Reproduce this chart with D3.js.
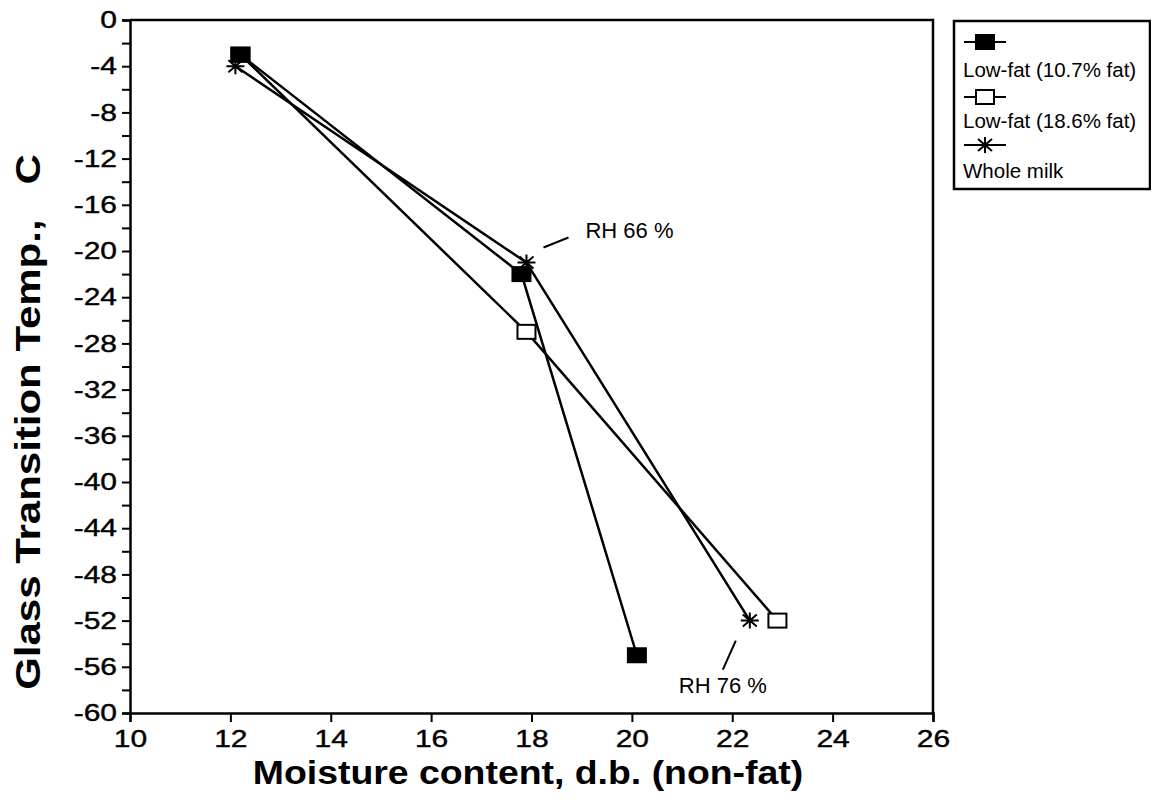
<!DOCTYPE html>
<html>
<head>
<meta charset="utf-8">
<script src="https://cdn.jsdelivr.net/npm/d3@7"></script>
<style>
  body { margin: 0; background: #fff; }
  text { font-family: "Liberation Sans", Arial, sans-serif; fill: #000; }
</style>
</head>
<body>
<script>
// series
var seriesNames = ["Low-fat (10.7% fat)", "Low-fat (18.6% fat)", "Whole milk"];
var seriesSymbols = ["filled", "open", "star"];
var lowFat107X = [12.2, 17.8, 20.1];
var lowFat107Y = [-3, -22, -55];
var lowFat186X = [12.2, 17.9, 22.9];
var lowFat186Y = [-3, -27, -52];
var wholeMilkX = [12.1, 17.9, 22.35];
var wholeMilkY = [-4, -21, -52];

var xTicks = [10, 12, 14, 16, 18, 20, 22, 24, 26];
var yTicks = d3.range(0, -61, -2);

// annotations: label + the point it refers to
var notes = [
    { text: "RH 66 %", x: 17.9, y: -21 },
    { text: "RH 76 %", x: 22.35, y: -52 }
];

var width = 1151, height = 800;
var margin = { left: 130, right: 218, top: 20, bottom: 87 };
var stretch = 1.25; // scanned lettering is wider than Arial

var svg = d3.select("body").append("svg")
    .attr("width", width)
    .attr("height", height);

var x = d3.scaleLinear().domain([10, 26]).range([margin.left, width - margin.right]);
var y = d3.scaleLinear().domain([-60, 0]).range([height - margin.bottom, margin.top]);

// frame (top + right)
svg.append("path")
    .attr("d", "M" + x(10) + "," + y(0) + "H" + x(26) + "V" + y(-60))
    .attr("fill", "none")
    .attr("stroke", "#000")
    .attr("stroke-width", 2.5);

var xAxis = svg.append("g")
    .attr("transform", "translate(0," + y(-60) + ")")
    .call(d3.axisBottom(x).tickValues(xTicks).tickSize(9).tickPadding(8).tickFormat(d => String(d)));

var yAxis = svg.append("g")
    .attr("transform", "translate(" + x(10) + ",0)")
    .call(d3.axisLeft(y).tickValues(yTicks).tickSize(8).tickPadding(5)
        .tickFormat(d => d % 4 === 0 ? String(d) : ""));

[xAxis, yAxis].forEach(function (g) {
    g.select(".domain").attr("stroke-width", 2.5);
    g.selectAll(".tick line").attr("stroke-width", 2);
    g.selectAll("text")
        .style("font-size", "24px")
        .attr("fill", "#000")
        .attr("stroke", "#000")
        .attr("stroke-width", 0.4);
});
yAxis.selectAll("text")
    .attr("x", -13 / stretch)
    .attr("transform", "scale(" + stretch + ",1)");
xAxis.selectAll("text")
    .attr("transform", "scale(" + stretch + ",1)");

// axis titles
svg.append("text")
    .attr("transform", "translate(528,784) scale(1.1,1)")
    .attr("text-anchor", "middle")
    .style("font-size", "34px")
    .style("font-weight", "bold")
    .text("Moisture content, d.b. (non-fat)");

svg.append("text")
    .attr("transform", "translate(40,422) rotate(-90) scale(1.2,1)")
    .attr("text-anchor", "middle")
    .style("font-size", "35px")
    .style("font-weight", "bold")
    .text("Glass Transition Temp.,\u00a0\u00a0\u00a0C");

var series = [
    { name: seriesNames[0], sym: seriesSymbols[0], pts: d3.zip(lowFat107X, lowFat107Y) },
    { name: seriesNames[1], sym: seriesSymbols[1], pts: d3.zip(lowFat186X, lowFat186Y) },
    { name: seriesNames[2], sym: seriesSymbols[2], pts: d3.zip(wholeMilkX, wholeMilkY) }
];

var line = d3.line().x(d => x(d[0])).y(d => y(d[1]));

function drawSymbol(g, sym) {
    if (sym === "filled" || sym === "open") {
        g.append("rect")
            .attr("x", -9).attr("y", -7)
            .attr("width", 18).attr("height", 14)
            .attr("fill", sym === "filled" ? "#000" : "#fff")
            .attr("stroke", "#000")
            .attr("stroke-width", 2);
    } else {
        g.append("path")
            .attr("d", "M-9,0H9M0,-8V8M-7,-6L7,6M-7,6L7,-6")
            .attr("stroke", "#000")
            .attr("stroke-width", 2);
    }
}

// open series first so the filled square sits on top at the shared point
[1, 2, 0].forEach(function (i) {
    svg.append("path")
        .datum(series[i].pts)
        .attr("d", line)
        .attr("fill", "none")
        .attr("stroke", "#000")
        .attr("stroke-width", 2.5);
});

[1, 2, 0].forEach(function (i) {
    var s = series[i];
    svg.append("g").selectAll("g")
        .data(s.pts)
        .join("g")
        .attr("transform", d => "translate(" + x(d[0]) + "," + y(d[1]) + ")")
        .each(function () { drawSymbol(d3.select(this), s.sym); });
});

// RH annotations
var n0 = notes[0], n1 = notes[1];
svg.append("line")
    .attr("x1", x(n0.x) + 17).attr("y1", y(n0.y) - 15)
    .attr("x2", x(n0.x) + 42).attr("y2", y(n0.y) - 25)
    .attr("stroke", "#000").attr("stroke-width", 2);
svg.append("text")
    .attr("x", x(n0.x) + 59).attr("y", y(n0.y) - 25)
    .style("font-size", "22px")
    .text(n0.text);

svg.append("line")
    .attr("x1", x(n1.x) - 14).attr("y1", y(n1.y) + 20)
    .attr("x2", x(n1.x) - 27).attr("y2", y(n1.y) + 49)
    .attr("stroke", "#000").attr("stroke-width", 2);
svg.append("text")
    .attr("x", x(n1.x) - 71).attr("y", y(n1.y) + 72)
    .style("font-size", "22px")
    .text(n1.text);

// legend
var legend = svg.append("g").attr("transform", "translate(954,21)");
legend.append("rect")
    .attr("width", 196).attr("height", 168)
    .attr("fill", "#fff")
    .attr("stroke", "#000")
    .attr("stroke-width", 2.5);

var legendSymY = [21, 76, 124];
var legendTextY = [56, 107, 157];
series.forEach(function (s, i) {
    var row = legend.append("g");
    row.append("line")
        .attr("x1", 10).attr("x2", 52)
        .attr("y1", legendSymY[i]).attr("y2", legendSymY[i])
        .attr("stroke", "#000").attr("stroke-width", 2);
    drawSymbol(row.append("g").attr("transform", "translate(31," + legendSymY[i] + ")"), s.sym);
    row.append("text")
        .attr("x", 9).attr("y", legendTextY[i])
        .style("font-size", "20.5px")
        .text(s.name);
});
</script>
</body>
</html>
